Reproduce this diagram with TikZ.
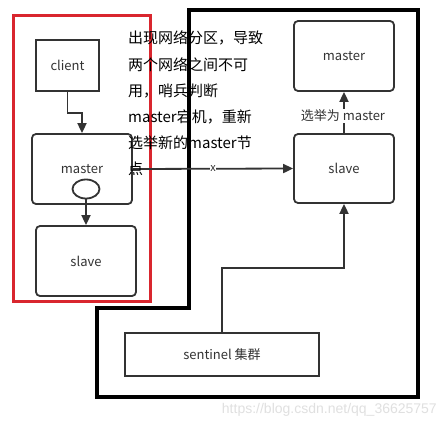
\documentclass[tikz,border=0pt]{standalone}
\usepackage{fontspec}
\setmainfont{Noto Sans CJK SC}
\newfontfamily\wmfont{Liberation Sans}
\usetikzlibrary{arrows.meta,shapes.geometric}
\definecolor{ink}{HTML}{333333}
\definecolor{redline}{HTML}{D9262E}
\tikzset{
  box/.style={draw=ink,line width=1.8pt,minimum width=100pt,minimum height=70pt,inner sep=0pt,text=ink,font=\fontsize{13}{15}\selectfont},
  rbox/.style={box,rounded corners=4pt},
  arr/.style={draw=ink,line width=1.8pt,-{Triangle[length=10pt,width=9pt]}},
  lbl/.style={text=ink,font=\fontsize{13}{15}\selectfont,inner sep=1pt}
}
\begin{document}
\begin{tikzpicture}[x=1pt,y=-1pt]
\useasboundingbox[fill=white] (0,0) rectangle (446,425);
% frames
\draw[redline,line width=3pt] (13,16) rectangle (150,301);
\draw[black,line width=3.4pt] (189,10) -- (418,10) -- (418,397) -- (97,397) -- (97,308) -- (189,308) -- cycle;
% left nodes
\node[box,minimum width=63pt,minimum height=51pt] (client) at (67.5,65.5) {client};
\node[rbox] (masterL) at (82,169) {master};
\node[draw=ink,line width=1.8pt,ellipse,minimum width=27pt,minimum height=19pt,inner sep=0pt,fill=white] (ell) at (86,189) {};
\node[rbox] (slaveL) at (86,261) {slave};
% right nodes
\node[rbox] (masterR) at (344,56) {master};
\node[rbox,minimum height=69pt] (slaveR) at (344,168.5) {slave};
\node[box,minimum width=194pt,minimum height=43pt] (sentinel) at (222,354.5) {sentinel 集群};
% connectors
\draw[arr] (client.south) -- ++(0,21) -| (masterL.north);
\draw[arr] (ell.south) -- (slaveL.north);
\draw[arr] (masterL.east) -- node[lbl,pos=0.5,fill=white,inner sep=0.5pt,font=\fontsize{11}{12}\selectfont] {x} (slaveR.west);
\draw[arr] (slaveR.north) -- (masterR.south);
\node[lbl,fill=white] (elect) at (343,116) {选举为 master};
\draw[arr] (sentinel.north) -- ++(0,-64) -| (slaveR.south);
% explanation text
\node[anchor=north west,align=left,inner sep=0pt,text=black,font=\fontsize{15}{26.2}\selectfont] (note) at (128,31) {出现网络分区，导致\\两个网络之间不可\\用，哨兵判断\\master宕机，重新\\选举新的master节\\点};
% watermark
\node[anchor=base east,text=black!12,font=\wmfont\fontsize{14}{16}\selectfont,inner sep=0pt] (wm) at (437,413) {https://blog.csdn.net/qq\_36625757};
\end{tikzpicture}
\end{document}
